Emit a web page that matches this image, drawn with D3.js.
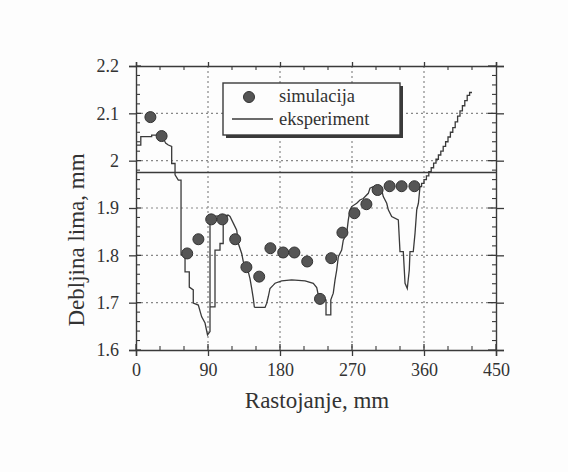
<!DOCTYPE html>
<html>
<head>
<meta charset="utf-8">
<script src="https://cdn.jsdelivr.net/npm/d3@7"></script>
<style>
  body { margin: 0; background: #fdfdfd; }
  text { font-family: "Liberation Serif", "DejaVu Serif", serif; fill: #333; }
</style>
</head>
<body>
<svg id="chart"></svg>
<script>
// Simulation points (distance mm, thickness mm)
var simX = [18, 32, 64, 78, 94, 108, 124, 138, 154, 168, 184, 198, 214, 230, 244, 258, 273, 288, 302, 317, 332, 348];
var simY = [2.092, 2.052, 1.804, 1.834, 1.876, 1.876, 1.834, 1.775, 1.755, 1.815, 1.806, 1.806, 1.787, 1.708, 1.794, 1.848, 1.889, 1.908, 1.938, 1.946, 1.946, 1.946];

// Experiment trace
var expX = [0, 6, 6, 19.6, 19.6, 32.5, 37, 40.4, 44.6, 44.6, 48.8, 48.8, 52.9, 56.3, 56.3, 61.3, 61.3, 66.6, 66.6, 71.6, 71.6, 77.9, 82.1, 86.3, 89.4, 92.5, 92.5, 115.4,
  117.5, 121.6, 125.9, 127.9, 132.1, 134.1, 140.4, 142.5, 144.6, 146.6, 147.9, 148.8, 161.3, 163.4, 165.4, 167.5, 171.6, 173.8, 182.1, 194.6, 211.3, 221.6, 225.9, 227.9,
  229, 237.5, 237.5, 243.5, 243.5, 246.6, 248.8, 250.9, 252.9, 257.1, 259.1, 263.4, 265.4, 267.5, 269.6, 275.9, 280, 284.1, 290.4, 292.5, 296.6, 302.9,
  307.1, 309.1, 313.4, 315.4, 319.6, 327.9, 330, 334.1, 336.3, 339.1, 341.6, 342.5, 346.6, 348.8, 350.9, 353, 355,
  357, 357, 360, 360, 363, 363, 366, 366, 369, 369, 372, 372, 375, 375, 378, 378, 381, 381, 384, 384, 387, 387, 390, 390, 393, 393, 396, 396, 399, 399,
  402, 402, 405, 405, 408, 408, 411, 411, 414, 414, 417, 417, 420];
var expY = [2.033, 2.033, 2.051, 2.051, 2.054, 2.054, 2.037, 2.033, 2.030, 1.994, 1.994, 1.970, 1.959, 1.959, 1.801, 1.801, 1.765, 1.765, 1.733, 1.727, 1.699, 1.695, 1.670, 1.657, 1.632, 1.639, 1.882, 1.885,
  1.882, 1.868, 1.853, 1.825, 1.804, 1.787, 1.765, 1.751, 1.730, 1.709, 1.691, 1.690, 1.690, 1.699, 1.713, 1.730, 1.737, 1.741, 1.746, 1.748, 1.746, 1.741, 1.732, 1.716,
  1.712, 1.706, 1.674, 1.674, 1.706, 1.720, 1.748, 1.769, 1.797, 1.811, 1.832, 1.847, 1.875, 1.896, 1.903, 1.910, 1.917, 1.920, 1.931, 1.942, 1.945, 1.945,
  1.938, 1.924, 1.910, 1.896, 1.882, 1.875, 1.808, 1.808, 1.741, 1.730, 1.769, 1.808, 1.808, 1.847, 1.896, 1.910, 1.945,
  1.945, 1.952, 1.952, 1.960, 1.960, 1.968, 1.968, 1.977, 1.977, 1.985, 1.985, 1.995, 1.995, 2.003, 2.003, 2.012, 2.012, 2.020, 2.020, 2.030, 2.030, 2.040, 2.040, 2.050, 2.050, 2.060, 2.060, 2.070, 2.070, 2.082,
  2.082, 2.094, 2.094, 2.105, 2.105, 2.116, 2.116, 2.127, 2.127, 2.138, 2.138, 2.144, 2.144];

// Inner branch of the trace near 100 mm
var loopX = [92.5, 98.75, 98.75, 105, 105, 109, 109, 115.4];
var loopY = [1.691, 1.691, 1.811, 1.811, 1.825, 1.825, 1.875, 1.885];

// Horizontal reference line
var refY = 1.975;

// Ticks
var xTicks = [0, 90, 180, 270, 360, 450];
var yTicks = [1.6, 1.7, 1.8, 1.9, 2.0, 2.1, 2.2];
var yTickLabels = ["1.6", "1.7", "1.8", "1.9", "2", "2.1", "2.2"];
var xMinor = [30, 60, 120, 150, 210, 240, 300, 330, 390, 420];
var yMinor = [1.62, 1.64, 1.66, 1.68, 1.72, 1.74, 1.76, 1.78, 1.82, 1.84, 1.86, 1.88, 1.92, 1.94, 1.96, 1.98, 2.02, 2.04, 2.06, 2.08, 2.12, 2.14, 2.16, 2.18];

var legendLabels = ["simulacija", "eksperiment"];

// Sizes
var W = 568, H = 472;
var mLeft = 136, mRight = 496, mTop = 66, mBottom = 350;
var ink = "#3a3a3a";

var svg = d3.select("#chart").attr("width", W).attr("height", H);

var x = d3.scaleLinear().domain([0, 450]).range([mLeft, mRight]);
var y = d3.scaleLinear().domain([1.6, 2.2]).range([mBottom, mTop]);

// Dotted grid
var grid = svg.append("g").attr("stroke", "#888").attr("stroke-width", 1.2).attr("stroke-dasharray", "2,3");
grid.selectAll(".gx").data(xTicks.slice(1, -1)).enter().append("line")
  .attr("x1", function(d) { return x(d); }).attr("x2", function(d) { return x(d); })
  .attr("y1", mTop).attr("y2", mBottom);
grid.selectAll(".gy").data(yTicks.slice(1, -1)).enter().append("line")
  .attr("x1", mLeft).attr("x2", mRight)
  .attr("y1", function(d) { return y(d); }).attr("y2", function(d) { return y(d); });

// Axes: bottom/left with labels, top/right mirrored
var xAxis = d3.axisBottom(x).tickValues(xTicks).tickSize(6).tickPadding(7).tickFormat(d3.format("d"));
var yAxis = d3.axisLeft(y).tickValues(yTicks).tickSize(7).tickPadding(10).tickFormat(function(d, i) { return yTickLabels[i]; });

function styleAxis(g) {
  g.select(".domain").attr("stroke", ink).attr("stroke-width", 1.4);
  g.selectAll(".tick line").attr("stroke", ink).attr("stroke-width", 1.3);
  g.selectAll(".tick text").attr("font-size", 18).attr("fill", "#333")
    .attr("font-family", "Liberation Serif, serif");
}

svg.append("g").attr("transform", "translate(0," + mBottom + ")").call(xAxis).call(styleAxis);
svg.append("g").attr("transform", "translate(" + mLeft + ",0)").call(yAxis).call(styleAxis);
svg.append("g").attr("transform", "translate(0," + mTop + ")")
  .call(d3.axisTop(x).tickValues(xTicks).tickSize(4).tickFormat("")).call(styleAxis);
svg.append("g").attr("transform", "translate(" + mRight + ",0)")
  .call(d3.axisRight(y).tickValues(yTicks).tickSize(8).tickFormat("")).call(styleAxis);

// Inward halves of major ticks
var inner = svg.append("g").attr("stroke", ink).attr("stroke-width", 1.3);
inner.selectAll(".ix").data(xTicks).enter().append("line")
  .attr("x1", function(d) { return x(d); }).attr("x2", function(d) { return x(d); })
  .attr("y1", mBottom).attr("y2", mBottom - 6);
inner.selectAll(".iy").data(yTicks).enter().append("line")
  .attr("x1", mLeft).attr("x2", mLeft + 5)
  .attr("y1", function(d) { return y(d); }).attr("y2", function(d) { return y(d); });
inner.selectAll(".iyr").data(yTicks).enter().append("line")
  .attr("x1", mRight - 8).attr("x2", mRight)
  .attr("y1", function(d) { return y(d); }).attr("y2", function(d) { return y(d); });

// Minor ticks, inward on all sides
var minor = svg.append("g").attr("stroke", ink).attr("stroke-width", 1.1);
xMinor.forEach(function(d) {
  minor.append("line").attr("x1", x(d)).attr("x2", x(d)).attr("y1", mBottom).attr("y2", mBottom - 4);
  minor.append("line").attr("x1", x(d)).attr("x2", x(d)).attr("y1", mTop).attr("y2", mTop + 4);
});
yMinor.forEach(function(d) {
  minor.append("line").attr("x1", mLeft).attr("x2", mLeft + 4).attr("y1", y(d)).attr("y2", y(d));
  minor.append("line").attr("x1", mRight - 4).attr("x2", mRight).attr("y1", y(d)).attr("y2", y(d));
});

// Reference line
svg.append("line")
  .attr("x1", x(0)).attr("x2", x(450))
  .attr("y1", y(refY)).attr("y2", y(refY))
  .attr("stroke", ink).attr("stroke-width", 1.6);

// Experiment trace
var line = d3.line()
  .x(function(d) { return x(d[0]); })
  .y(function(d) { return y(d[1]); });

svg.append("path")
  .datum(d3.zip(expX, expY))
  .attr("d", line)
  .attr("fill", "none").attr("stroke", ink).attr("stroke-width", 1.3);

svg.append("path")
  .datum(d3.zip(loopX, loopY))
  .attr("d", line)
  .attr("fill", "none").attr("stroke", ink).attr("stroke-width", 1.3);

// Simulation markers
svg.selectAll(".sim").data(d3.zip(simX, simY)).enter().append("circle")
  .attr("cx", function(d) { return x(d[0]); })
  .attr("cy", function(d) { return y(d[1]); })
  .attr("r", 5.5)
  .attr("fill", "#555").attr("stroke", "#333").attr("stroke-width", 1);

// Legend box with shadow
var lg = svg.append("g");
lg.append("rect").attr("x", 226).attr("y", 86).attr("width", 177).attr("height", 52).attr("fill", ink);
lg.append("rect").attr("x", 223).attr("y", 83).attr("width", 177).attr("height", 52)
  .attr("fill", "#fdfdfd").attr("stroke", ink).attr("stroke-width", 1.4);
lg.append("circle").attr("cx", 249).attr("cy", 97).attr("r", 5.5).attr("fill", "#555").attr("stroke", "#333");
lg.append("line").attr("x1", 232).attr("x2", 273).attr("y1", 119).attr("y2", 119)
  .attr("stroke", ink).attr("stroke-width", 1.4);
lg.selectAll(".lt").data(legendLabels).enter().append("text")
  .attr("x", 279).attr("y", function(d, i) { return 102 + i * 23; })
  .attr("font-size", 18.5).text(function(d) { return d; });

// Axis titles
svg.append("text").attr("x", 317).attr("y", 408).attr("text-anchor", "middle")
  .attr("font-size", 23).text("Rastojanje, mm");
svg.append("text").attr("transform", "translate(84,240) rotate(-90)").attr("text-anchor", "middle")
  .attr("font-size", 23).text("Debljina lima, mm");
</script>
</body>
</html>
